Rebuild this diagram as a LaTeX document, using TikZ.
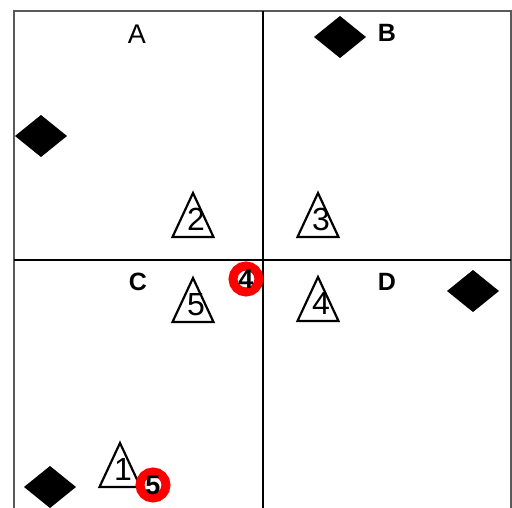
\documentclass[tikz,border=0pt]{standalone}
\usepackage{fontspec}
\setmainfont{Liberation Sans}
\usetikzlibrary{shapes.geometric}

\begin{document}
\begin{tikzpicture}[
  x=1pt, y=-1pt,
  every node/.style={inner sep=0pt, outer sep=0pt},
  frame/.style={draw=black!65, line width=1.4pt},
  divide/.style={draw=black, line width=1.4pt},
  quad/.style={font=\fontsize{25}{25}\selectfont\bfseries},
  site/.style={diamond, fill=black, minimum width=52pt, minimum height=42pt},
  tri/.style={isosceles triangle, shape border rotate=90,
              isosceles triangle stretches, draw, line width=2.2pt,
              minimum width=41pt, minimum height=44pt, anchor=apex},
  num/.style={font=\fontsize{32}{32}\selectfont, anchor=base},
  hit/.style={circle, draw=red, line width=9pt, fill=white,
              minimum size=26pt, font=\fontsize{27}{27}\selectfont\bfseries}
]
\useasboundingbox (0,0) rectangle (512,507);
% frame and quadrants
\draw[frame] (14,508) -- (14,11) -- (511,11) -- (511,508);
\draw[divide] (263,11) -- (263,508);
\draw[divide] (14,260) -- (511,260);
\node[font=\fontsize{27}{27}\selectfont] (labA) at (137,34) {A};
\node[quad] (labB) at (387,33)  {B};
\node[quad] (labC) at (138,282) {C};
\node[quad] (labD) at (387,282) {D};
% sites
\node[site] (siteA) at (41,136)  {};
\node[site] (siteB) at (340,37)  {};
\node[site] (siteC) at (50,487)  {};
\node[site] (siteD) at (473,291) {};
% triangles
\node[tri] (tri1) at (120,443) {};
\node[tri] (tri2) at (193,193) {};
\node[tri] (tri3) at (318,193) {};
\node[tri] (tri4) at (318,277) {};
\node[tri] (tri5) at (193,278) {};
\foreach \t/\n in {tri1/1, tri2/2, tri3/3, tri4/4, tri5/5}
  \node[num] (num\n) at ([xshift=3pt, yshift=7pt]\t.lower side) {\n};
% hits
\node[hit] (hit4) at (246,279) {4};
\node[hit] (hit5) at (153,485) {5};
\end{tikzpicture}
\end{document}
